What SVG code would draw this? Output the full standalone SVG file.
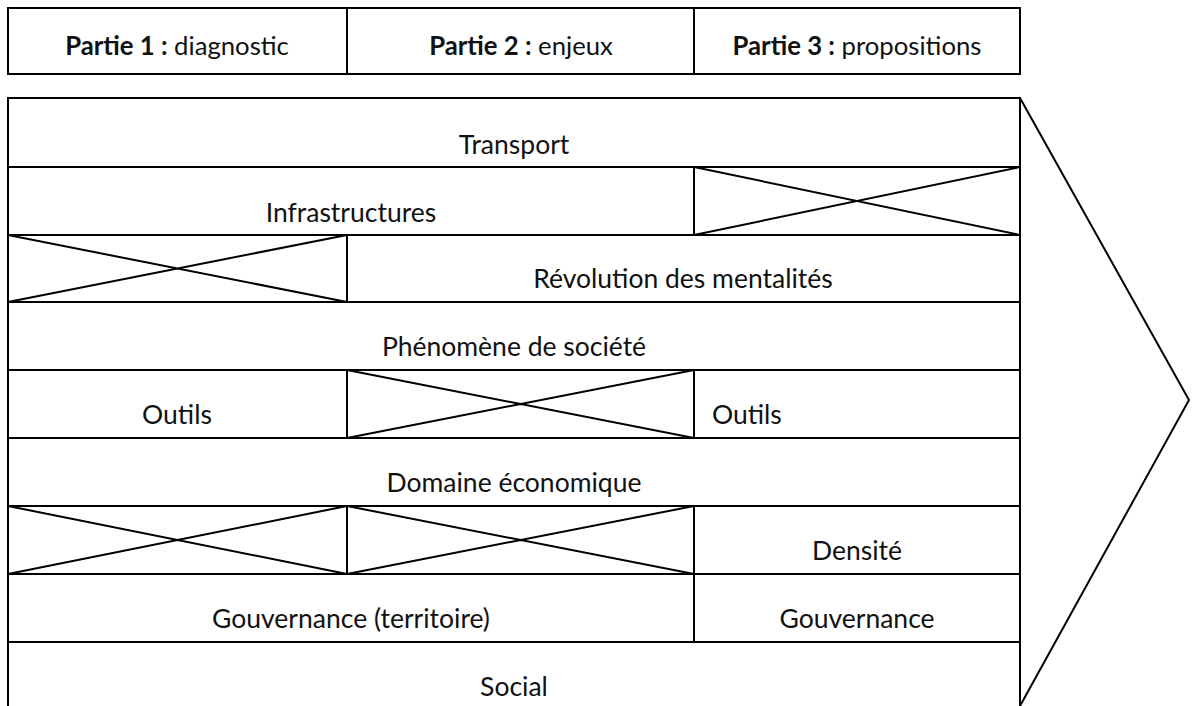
<svg xmlns="http://www.w3.org/2000/svg" width="1198" height="706" viewBox="0 0 1198 706">
<style>
.c{fill:#fff;stroke:#000;stroke-width:2}
.x{stroke:#000;stroke-width:2;fill:none}
text{font-family:Lato,"Open Sans","Liberation Sans",sans-serif;font-size:26.5px;fill:#111}
.h{font-size:25.7px}
.m{text-anchor:middle}
.b{font-weight:bold}
</style>
<rect width="1198" height="706" fill="#fff"/>
<g id="header">
<g id="h1"><rect class="c" x="8" y="8" width="339" height="66"/><text class="m h" x="177" y="55"><tspan class="b">Partie 1 :</tspan> diagnostic</text></g>
<g id="h2"><rect class="c" x="347" y="8" width="347" height="66"/><text class="m h" x="521" y="55"><tspan class="b">Partie 2 :</tspan> enjeux</text></g>
<g id="h3"><rect class="c" x="694" y="8" width="326" height="66"/><text class="m h" x="857" y="55"><tspan class="b">Partie 3 :</tspan> propositions</text></g>
</g>
<g id="arrow"><polyline class="x" points="1020,98 1189,400 1020,706"/></g>
<g id="transport"><rect class="c" x="8" y="98" width="1012" height="69"/><text class="m" x="514" y="154">Transport</text></g>
<g id="infra"><rect class="c" x="8" y="167" width="686" height="68"/><text class="m" x="351" y="222">Infrastructures</text></g>
<g id="x1"><rect class="c" x="694" y="167" width="326" height="68"/><path class="x" d="M694,167L1020,235M694,235L1020,167"/></g>
<g id="x2"><rect class="c" x="8" y="235" width="339" height="67"/><path class="x" d="M8,235L347,302M8,302L347,235"/></g>
<g id="revolution"><rect class="c" x="347" y="235" width="673" height="67"/><text class="m" x="683" y="288">Révolution des mentalités</text></g>
<g id="phenomene"><rect class="c" x="8" y="302" width="1012" height="68"/><text class="m" x="514" y="356">Phénomène de société</text></g>
<g id="outils1"><rect class="c" x="8" y="370" width="339" height="68"/><text class="m" x="177" y="424">Outils</text></g>
<g id="x3"><rect class="c" x="347" y="370" width="347" height="68"/><path class="x" d="M347,370L694,438M347,438L694,370"/></g>
<g id="outils3"><rect class="c" x="694" y="370" width="326" height="68"/><text x="712" y="424">Outils</text></g>
<g id="domaine"><rect class="c" x="8" y="438" width="1012" height="68"/><text class="m" x="514" y="492">Domaine économique</text></g>
<g id="x4"><rect class="c" x="8" y="506" width="339" height="68"/><path class="x" d="M8,506L347,574M8,574L347,506"/></g>
<g id="x5"><rect class="c" x="347" y="506" width="347" height="68"/><path class="x" d="M347,506L694,574M347,574L694,506"/></g>
<g id="densite"><rect class="c" x="694" y="506" width="326" height="68"/><text class="m" x="857" y="560">Densité</text></g>
<g id="gouvterr"><rect class="c" x="8" y="574" width="686" height="68"/><text class="m" x="351" y="628">Gouvernance (territoire)</text></g>
<g id="gouv"><rect class="c" x="694" y="574" width="326" height="68"/><text class="m" x="857" y="628">Gouvernance</text></g>
<g id="social"><rect class="c" x="8" y="642" width="1012" height="70"/><text class="m" x="514" y="696">Social</text></g>
<g id="connectors"></g>
</svg>
